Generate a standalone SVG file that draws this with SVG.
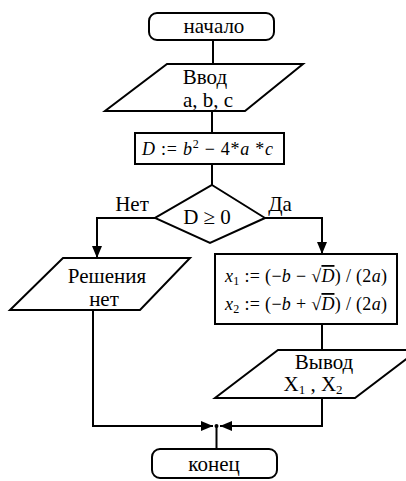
<svg xmlns="http://www.w3.org/2000/svg" width="406" height="481" viewBox="0 0 406 481">
<defs>
<style>
.s{fill:#fff;stroke:#000;stroke-width:2}
.c{fill:none;stroke:#000;stroke-width:2}
.t{font-family:"Liberation Serif","Times New Roman",serif;font-size:21px;fill:#000;text-anchor:middle}
.f{font-family:"Liberation Serif","Times New Roman",serif;font-size:18px;fill:#000}
.i{font-style:italic}
</style>
<marker id="ah" markerWidth="12" markerHeight="10" refX="12" refY="5" orient="auto" markerUnits="userSpaceOnUse">
<path d="M0,0 L12,5 L0,10 Z" fill="#000"/>
</marker>
</defs>
<rect width="406" height="481" fill="#fff"/>
<g id="connectors">
<line class="c" x1="213" y1="40" x2="213" y2="64"/>
<line class="c" x1="212" y1="111" x2="212" y2="133"/>
<line class="c" x1="212" y1="164" x2="212" y2="185"/>
<polyline class="c" points="155,218 97,218 97,258" marker-end="url(#ah)"/>
<polyline class="c" points="265,218 322,218 322,254" marker-end="url(#ah)"/>
<line class="c" x1="322" y1="324" x2="322" y2="350"/>
<polyline class="c" points="93,310 93,426 213,426" marker-end="url(#ah)"/>
<polyline class="c" points="322,398 322,426 220,426" marker-end="url(#ah)"/>
<circle cx="216.5" cy="426" r="2" fill="#000"/>
<line class="c" x1="216.5" y1="426" x2="216.5" y2="449"/>
</g>
<g id="start">
<rect class="s" x="149" y="13" width="125" height="27" rx="8"/>
<text class="t" x="214" y="33">начало</text>
</g>
<g id="input">
<polygon class="s" points="167,64 303,64 245,111 105,111"/>
<text class="t" x="205" y="84">Ввод</text>
<text class="t" x="208" y="107">a, b, c</text>
</g>
<g id="calcD">
<rect class="s" x="135" y="133" width="149" height="31"/>
<text class="f" x="142" y="155" textLength="131"><tspan class="i">D</tspan> := <tspan class="i">b</tspan><tspan font-size="12" dy="-7">2</tspan><tspan dy="7"> − 4*</tspan><tspan class="i">a</tspan> *<tspan class="i">c</tspan></text>
</g>
<g id="decision">
<polygon class="s" points="212,185 265,218 210,243 155,218"/>
<text class="t" x="207" y="224">D ≥ 0</text>
<text class="t" x="132" y="211">Нет</text>
<text class="t" x="280" y="211">Да</text>
</g>
<g id="noSolution">
<polygon class="s" points="63,258 190,258 140,310 10,310"/>
<text class="t" x="107" y="283" font-size="20">Решения</text>
<text class="t" x="104" y="306" font-size="20">нет</text>
</g>
<g id="roots">
<rect class="s" x="215" y="254" width="182" height="70"/>
<text class="f" x="225" y="282" textLength="162"><tspan class="i">x</tspan><tspan font-size="12" dy="3">1</tspan><tspan dy="-3"> := (−</tspan><tspan class="i">b</tspan> − √<tspan class="i" text-decoration="overline">D</tspan>) / (2<tspan class="i">a</tspan>)</text>
<text class="f" x="225" y="310" textLength="162"><tspan class="i">x</tspan><tspan font-size="12" dy="3">2</tspan><tspan dy="-3"> := (−</tspan><tspan class="i">b</tspan> + √<tspan class="i" text-decoration="overline">D</tspan>) / (2<tspan class="i">a</tspan>)</text>
</g>
<g id="output">
<polygon class="s" points="278,350 418,350 355,398 215,398"/>
<text class="t" x="324" y="369" font-size="20">Вывод</text>
<text class="t" x="313" y="391" font-size="18">X<tspan font-size="13" dy="3">1</tspan><tspan dy="-3"> , X</tspan><tspan font-size="13" dy="3">2</tspan></text>
</g>
<g id="end">
<rect class="s" x="152" y="449" width="125" height="29" rx="8"/>
<text class="t" x="214" y="471">конец</text>
</g>
</svg>
